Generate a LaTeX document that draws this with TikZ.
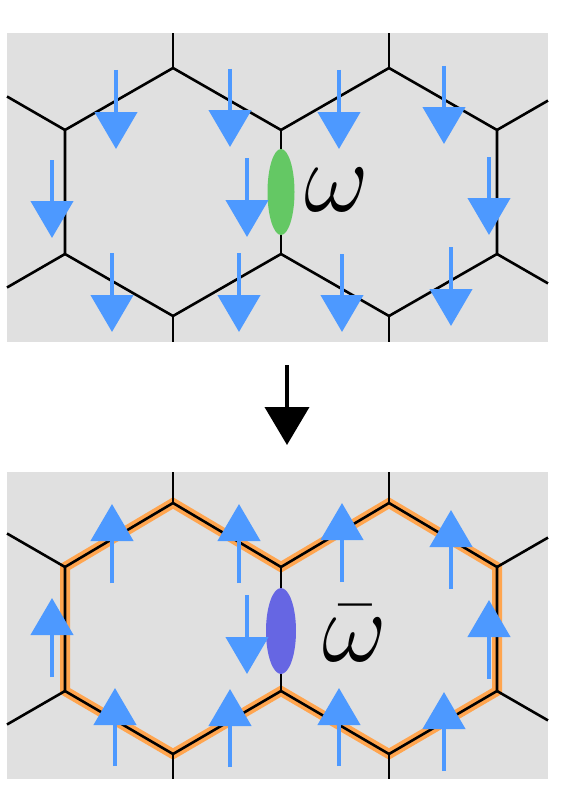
\documentclass[tikz,border=0pt]{standalone}
\usepackage{fix-cm}
\usetikzlibrary{arrows.meta,shapes.geometric}
\definecolor{hcGray}{HTML}{E0E0E0}
\definecolor{hcBlue}{HTML}{4D99FF}
\definecolor{hcOrange}{HTML}{FFA54F}
\definecolor{hcGreen}{HTML}{64C864}
\definecolor{hcPurple}{HTML}{6666E3}
\tikzset{
  % grey backdrop of a panel
  hc/panel/.style={fill=hcGray, draw=none},
  % honeycomb bonds
  hc/bond/.style={draw=black, line width=2.6pt, line join=miter},
  % the flipped loop, laid under the bonds
  hc/loop/.style={draw=hcOrange, line width=10pt, line join=miter},
  % spins on the bonds
  hc/spin/.style={-{Triangle[length=37pt,width=42pt]}, draw=hcBlue, line width=4.5pt},
  % step from one panel to the next
  hc/flip/.style={-{Triangle[length=38pt,width=44pt]}, draw=black, line width=4pt},
  % the bond variable
  hc/link/.style={ellipse, draw=none, inner sep=0pt, minimum width=27pt, minimum height=86pt},
  hc/sym/.style={font=\fontsize{100}{100}\selectfont, inner sep=0pt, anchor=base, text=black}
}

\begin{document}
\begin{tikzpicture}[x=1pt, y=-1pt]
\useasboundingbox (0,0) rectangle (581,792);

\begin{scope}
  \fill[hc/panel] (7,33) rectangle (548,342);
  \foreach \n/\x/\y in {lt/173/68, lul/65/130, lll/65/254, lb/173/316, mu/281/130, ml/281/254,
                        rt/389/68, rur/497/130, rlr/497/254, rb/389/316,
                        slt/173/33, slul/7/96.5, slll/7/287.5, slb/173/342,
                        srt/389/33, srur/548/100.6, srlr/548/283.4, srb/389/342}{
    \coordinate (\n) at (\x,\y);}
  \draw[hc/bond] (lul) -- (lt) -- (mu) -- (rt) -- (rur) -- (rlr) -- (rb) -- (ml) -- (lb) -- (lll) -- cycle;
  \draw[hc/bond] (mu) -- (ml);
  \foreach \a in {lt,lul,lll,lb,rt,rur,rlr,rb}{\draw[hc/bond] (\a) -- (s\a);}
  \node[hc/link, fill=hcGreen] (bondA) at (281,192) {};
  \node[hc/sym] (omega) at (337,211) {$\omega$};
  \foreach \x/\ya/\yb in {116/70/149, 230/69/147, 52/160/238, 247/158/237, 112/253/332, 239/253/332,
                          339/70/149, 444/66/144, 489/157/235, 342/254/332, 451/247/326}{
    \draw[hc/spin] (\x,\ya) -- (\x,\yb);}
\end{scope}

\coordinate (flipA) at (287,365);
\coordinate (flipB) at (287,445);
\draw[hc/flip] (flipA) -- (flipB);

\begin{scope}[shift={(0,437)}]
  \fill[hc/panel] (7,35) rectangle (548,342);
  \foreach \n/\x/\y in {lt/173/66, lul/65/130, lll/65/254, lb/173/317, mu/281/130, ml/281/254,
                        rt/389/66, rur/497/130, rlr/497/254, rb/389/317,
                        slt/173/35, slul/7/96.5, slll/7/287.5, slb/173/342,
                        srt/389/35, srur/548/100.6, srlr/548/283.4, srb/389/342}{
    \coordinate (\n) at (\x,\y);}
  \draw[hc/loop] (lul) -- (lt) -- (mu) -- (rt) -- (rur) -- (rlr) -- (rb) -- (ml) -- (lb) -- (lll) -- cycle;
  \draw[hc/bond] (lul) -- (lt) -- (mu) -- (rt) -- (rur) -- (rlr) -- (rb) -- (ml) -- (lb) -- (lll) -- cycle;
  \draw[hc/bond] (mu) -- (ml);
  \foreach \a in {lt,lul,lll,lb,rt,rur,rlr,rb}{\draw[hc/bond] (\a) -- (s\a);}
  \node[hc/link, fill=hcPurple, minimum width=30pt] (bondB) at (281,194) {};
  \node[hc/sym] (omegabar) at (355,224) {$\bar\omega$};
  \foreach \x/\ya/\yb in {112/146/67, 239/146/67, 52/240/161, 247/158/237, 115/329/251, 230/330/252,
                          342/145/66, 451/152/73, 489/242/163, 339/329/251, 444/334/255}{
    \draw[hc/spin] (\x,\ya) -- (\x,\yb);}
\end{scope}
\end{tikzpicture}
\end{document}
